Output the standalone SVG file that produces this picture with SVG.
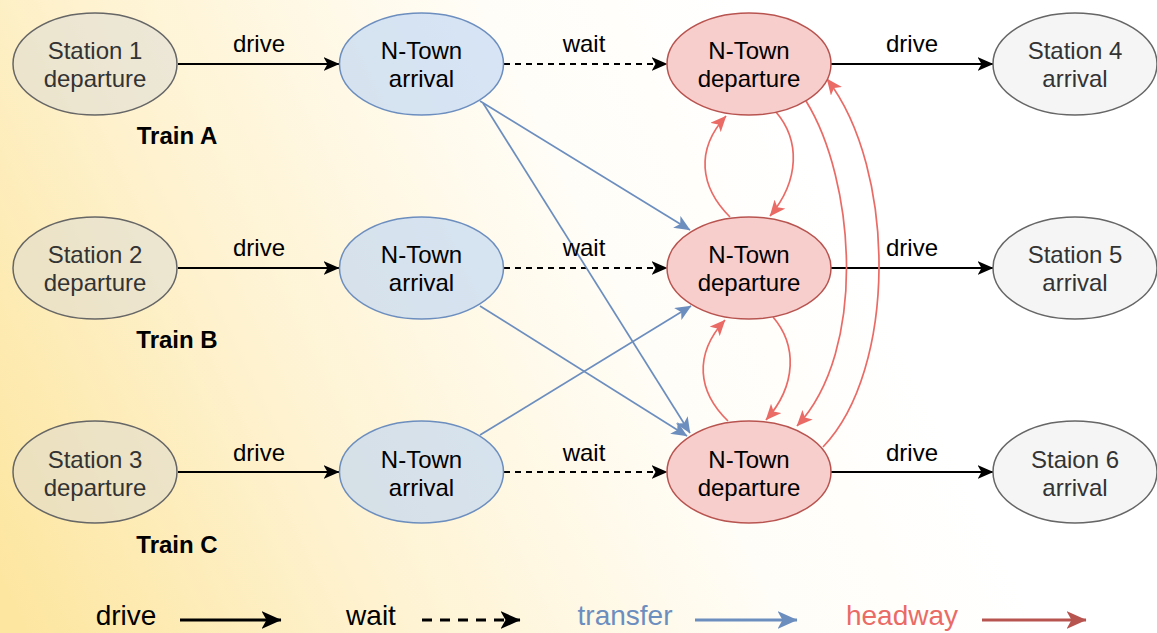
<svg xmlns="http://www.w3.org/2000/svg" width="1157" height="633" viewBox="0 0 1157 633">
<defs>
<linearGradient id="bg" gradientUnits="userSpaceOnUse" x1="0" y1="580" x2="820" y2="180">
<stop offset="0" stop-color="#fde6a0"/>
<stop offset="0.35" stop-color="#fef2cf"/>
<stop offset="0.75" stop-color="#fffdf7"/>
<stop offset="1" stop-color="#ffffff"/>
</linearGradient>
<marker id="aBlack" markerUnits="userSpaceOnUse" markerWidth="16" markerHeight="14" viewBox="0 0 16 14" refX="15.5" refY="7" orient="auto"><path d="M0,0 L16,7 L0,14 L4,7 Z" fill="#000"/></marker>
<marker id="aBlue" markerUnits="userSpaceOnUse" markerWidth="16" markerHeight="14" viewBox="0 0 16 14" refX="15.5" refY="7" orient="auto"><path d="M0,0 L16,7 L0,14 L4,7 Z" fill="#6c8ebf"/></marker>
<marker id="aRed" markerUnits="userSpaceOnUse" markerWidth="16" markerHeight="14" viewBox="0 0 16 14" refX="15.5" refY="7" orient="auto"><path d="M0,0 L16,7 L0,14 L4,7 Z" fill="#ea6b66"/></marker>
<marker id="lBlack" markerUnits="userSpaceOnUse" markerWidth="20" markerHeight="18" viewBox="0 0 20 18" refX="19.5" refY="9" orient="auto"><path d="M0,0 L20,9 L0,18 L5,9 Z" fill="#000"/></marker>
<marker id="lBlue" markerUnits="userSpaceOnUse" markerWidth="20" markerHeight="18" viewBox="0 0 20 18" refX="19.5" refY="9" orient="auto"><path d="M0,0 L20,9 L0,18 L5,9 Z" fill="#6c8ebf"/></marker>
<marker id="lRed" markerUnits="userSpaceOnUse" markerWidth="20" markerHeight="18" viewBox="0 0 20 18" refX="19.5" refY="9" orient="auto"><path d="M0,0 L20,9 L0,18 L5,9 Z" fill="#b85450"/></marker>
</defs>
<style>
text{font-family:"Liberation Sans",Arial,Helvetica,sans-serif;font-size:24px;text-anchor:middle}
.sd{fill:#d8d8d8;fill-opacity:0.45;stroke:#666;stroke-width:1.5}
.sa{fill:#f5f5f5;stroke:#666;stroke-width:1.5}
.ar{fill:#b8d2f5;fill-opacity:0.58;stroke:#6c8ebf;stroke-width:1.5}
.dp{fill:#f8cecc;stroke:#b85450;stroke-width:1.5}
.gt{fill:#333}
.bt{fill:#000}
.train{font-weight:bold;fill:#000}
.drive{stroke:#000;stroke-width:1.8;fill:none;marker-end:url(#aBlack)}
.wait{stroke:#000;stroke-width:1.8;fill:none;stroke-dasharray:6 5;marker-end:url(#aBlack)}
.tr{stroke:#6c8ebf;stroke-width:1.7;fill:none;marker-end:url(#aBlue)}
.hw{stroke:#ea6b66;stroke-width:1.7;fill:none;marker-end:url(#aRed)}
.leg{font-size:28px}
</style>
<rect x="0" y="0" width="1157" height="633" fill="url(#bg)"/>

<g id="connectors">
<path class="drive" d="M178,64 L339,64"/>
<path class="drive" d="M178,268 L339,268"/>
<path class="drive" d="M178,472 L339,472"/>
<path class="wait" d="M504,64 L667,64"/>
<path class="wait" d="M504,268 L667,268"/>
<path class="wait" d="M504,472 L667,472"/>
<path class="drive" d="M831,64 L993,64"/>
<path class="drive" d="M831,268 L993,268"/>
<path class="drive" d="M831,472 L993,472"/>
<path class="tr" d="M480,101 L690,230"/>
<path class="tr" d="M483,103 L690,433"/>
<path class="tr" d="M480,306 L687,436"/>
<path class="tr" d="M480,435 L691,306"/>
<path class="hw" d="M730,217 C700,187 695,150 726,116"/>
<path class="hw" d="M776,112 C800,140 800,180 770,216"/>
<path class="hw" d="M728,421 C698,392 693,355 725,320"/>
<path class="hw" d="M773,317 C797,345 797,385 766,420"/>
<path class="hw" d="M806,101 C855,180 868,350 797,426"/>
<path class="hw" d="M823,447 C897,370 897,170 827,79"/>
<text x="259" y="52">drive</text>
<text x="259" y="256">drive</text>
<text x="259" y="461">drive</text>
<text x="584" y="52">wait</text>
<text x="584" y="256">wait</text>
<text x="584" y="461">wait</text>
<text x="912" y="52">drive</text>
<text x="912" y="256">drive</text>
<text x="912" y="461">drive</text>
</g>

<g id="station1"><ellipse class="sd" cx="95" cy="64" rx="82" ry="51"/><text class="gt" x="95" y="59">Station 1</text><text class="gt" x="95" y="87">departure</text></g>
<g id="station2"><ellipse class="sd" cx="95" cy="268" rx="82" ry="51"/><text class="gt" x="95" y="263">Station 2</text><text class="gt" x="95" y="291">departure</text></g>
<g id="station3"><ellipse class="sd" cx="95" cy="472" rx="82" ry="51"/><text class="gt" x="95" y="468">Station 3</text><text class="gt" x="95" y="496">departure</text></g>

<g id="arrivalA"><ellipse class="ar" cx="421.5" cy="64" rx="82" ry="51"/><text class="bt" x="421.5" y="59">N-Town</text><text class="bt" x="421.5" y="87">arrival</text></g>
<g id="arrivalB"><ellipse class="ar" cx="421.5" cy="268" rx="82" ry="51"/><text class="bt" x="421.5" y="263">N-Town</text><text class="bt" x="421.5" y="291">arrival</text></g>
<g id="arrivalC"><ellipse class="ar" cx="421.5" cy="472" rx="82" ry="51"/><text class="bt" x="421.5" y="468">N-Town</text><text class="bt" x="421.5" y="496">arrival</text></g>

<g id="departureA"><ellipse class="dp" cx="749" cy="64" rx="82" ry="51"/><text class="bt" x="749" y="59">N-Town</text><text class="bt" x="749" y="87">departure</text></g>
<g id="departureB"><ellipse class="dp" cx="749" cy="268" rx="82" ry="51"/><text class="bt" x="749" y="263">N-Town</text><text class="bt" x="749" y="291">departure</text></g>
<g id="departureC"><ellipse class="dp" cx="749" cy="472" rx="82" ry="51"/><text class="bt" x="749" y="468">N-Town</text><text class="bt" x="749" y="496">departure</text></g>

<g id="station4"><ellipse class="sa" cx="1075" cy="64" rx="82" ry="51"/><text class="gt" x="1075" y="59">Station 4</text><text class="gt" x="1075" y="87">arrival</text></g>
<g id="station5"><ellipse class="sa" cx="1075" cy="268" rx="82" ry="51"/><text class="gt" x="1075" y="263">Station 5</text><text class="gt" x="1075" y="291">arrival</text></g>
<g id="station6"><ellipse class="sa" cx="1075" cy="472" rx="82" ry="51"/><text class="gt" x="1075" y="468">Staion 6</text><text class="gt" x="1075" y="496">arrival</text></g>

<g id="trainA"><text class="train" x="177" y="144">Train A</text></g>
<g id="trainB"><text class="train" x="177" y="348">Train B</text></g>
<g id="trainC"><text class="train" x="177" y="553">Train C</text></g>

<g id="legend">
<text class="leg" x="126" y="625">drive</text>
<path d="M180,620 L281,620" stroke="#000" stroke-width="3" fill="none" marker-end="url(#lBlack)"/>
<text class="leg" x="371" y="625">wait</text>
<path d="M422,620 L520,620" stroke="#000" stroke-width="3" fill="none" stroke-dasharray="10 8" marker-end="url(#lBlack)"/>
<text class="leg" x="625" y="625" fill="#6c8ebf">transfer</text>
<path d="M695,620 L797,620" stroke="#6c8ebf" stroke-width="3" fill="none" marker-end="url(#lBlue)"/>
<text class="leg" x="902" y="625" fill="#ea6b66">headway</text>
<path d="M982,620 L1086,620" stroke="#b85450" stroke-width="3" fill="none" marker-end="url(#lRed)"/>
</g>
</svg>
